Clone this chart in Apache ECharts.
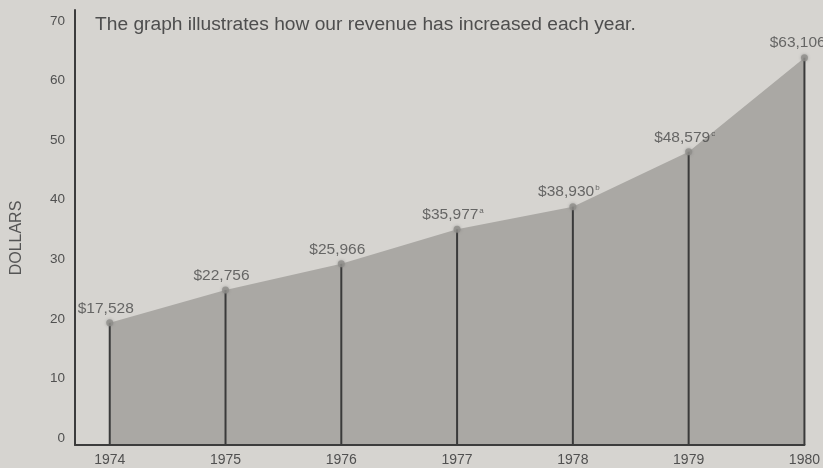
<!DOCTYPE html>
<html>
<head>
<meta charset="utf-8">
<script src="https://cdn.jsdelivr.net/npm/echarts@6/dist/echarts.min.js"></script>
<style>
html,body{margin:0;padding:0;background:#d6d4d0;}
#chart{width:823px;height:468px;}
</style>
</head>
<body>
<div id="chart"></div>
<script>
// Data (dollars, thousands)
const years = [1974, 1975, 1976, 1977, 1978, 1979, 1980];
const revenue = [20.5, 26.0, 30.4, 36.2, 40.0, 49.2, 65.0];
const valueLabels = ['$17,528', '$22,756', '$25,966', '$35,977', '$38,930', '$48,579', '$63,106'];
const footnotes = ['', '', '', 'a', 'b', 'c', 'd'];
const yTicks = [0, 10, 20, 30, 40, 50, 60, 70];
const titleText = 'The graph illustrates how our revenue has increased each year.';
const yAxisName = 'DOLLARS';

const points = years.map((y, i) => [y, revenue[i]]);
const FONT = '"Liberation Sans", Arial, Helvetica, sans-serif';

const chart = echarts.init(document.getElementById('chart'));
chart.setOption({
  backgroundColor: '#d6d4d0',
  animation: false,
  textStyle: { fontFamily: FONT },
  title: {
    text: titleText,
    left: 90,
    top: 10,
    textStyle: { fontFamily: FONT, fontSize: 19.2, fontWeight: 'normal', color: '#4e4e4e' }
  },
  graphic: [{
    type: 'text',
    x: 17,
    y: 238,
    rotation: Math.PI / 2,
    style: {
      text: yAxisName,
      font: '16px ' + FONT,
      fill: '#555555',
      textAlign: 'center',
      textVerticalAlign: 'middle'
    }
  }],
  grid: { left: 75, right: 17, top: 10, bottom: 23, containLabel: false },
  xAxis: {
    type: 'value',
    z: 5,
    min: 1973.7,
    max: 1980,
    minInterval: 1,
    maxInterval: 1,
    splitLine: { show: false },
    axisTick: { show: false },
    axisLine: { show: true, onZero: false, lineStyle: { color: '#3c3c3c', width: 2 } },
    axisLabel: {
      showMinLabel: false,
      margin: 8,
      fontSize: 14,
      color: '#505050',
      fontFamily: FONT,
      formatter: v => (years.indexOf(Math.round(v)) >= 0 && Math.abs(v - Math.round(v)) < 1e-6) ? String(Math.round(v)) : ''
    }
  },
  yAxis: {
    type: 'value',
    z: 5,
    min: 0,
    max: 73,
    interval: 10,
    splitLine: { show: false },
    axisTick: { show: false },
    axisLine: { show: true, lineStyle: { color: '#3c3c3c', width: 2 } },
    axisLabel: {
      showMaxLabel: false,
      margin: 10,
      fontSize: 13.5,
      color: '#505050',
      fontFamily: FONT,
      verticalAlign: 'bottom',
      formatter: v => yTicks.indexOf(v) >= 0 ? String(v) : ''
    }
  },
  series: [
    {
      type: 'line',
      data: points,
      z: 1,
      symbol: 'none',
      lineStyle: { width: 0, color: '#aaa8a4' },
      areaStyle: { color: '#aaa8a4', opacity: 1 },
      silent: true
    },
    {
      type: 'bar',
      data: points,
      z: 2,
      barWidth: 2,
      itemStyle: { color: '#3a3a3a' },
      silent: true
    },
    {
      type: 'scatter',
      data: points,
      z: 3,
      symbol: 'circle',
      symbolSize: 7,
      itemStyle: { color: '#8f8d8a', shadowBlur: 3, shadowColor: 'rgba(120,120,120,0.6)' },
      label: {
        show: true,
        position: 'top',
        distance: 3,
        offset: [-4, 0],
        formatter: p => '{v|' + valueLabels[p.dataIndex] + '}' + (footnotes[p.dataIndex] ? '{s|' + footnotes[p.dataIndex] + '}' : ''),
        rich: {
          v: { fontSize: 15.5, color: '#4a4a4a', fontFamily: FONT },
          s: { fontSize: 8, color: '#4a4a4a', fontFamily: FONT, verticalAlign: 'top', padding: [0, 0, 7, 1] }
        }
      },
      silent: true
    }
  ]
});
</script>
</body>
</html>
